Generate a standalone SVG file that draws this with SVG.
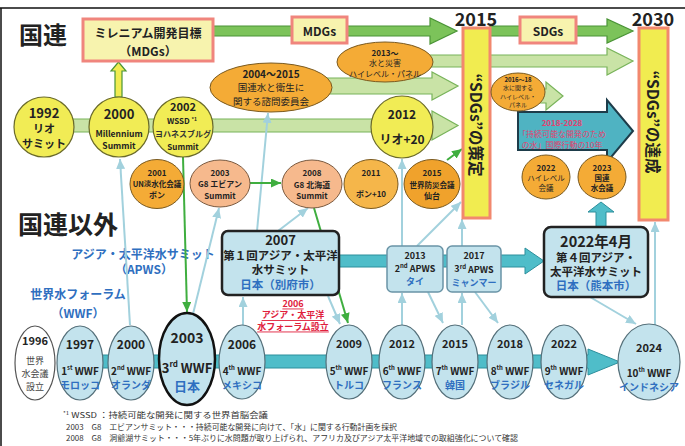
<svg xmlns="http://www.w3.org/2000/svg" width="685" height="446" viewBox="0 0 685 446">
<style>
text{font-family:"Noto Sans CJK JP","Noto Sans",sans-serif;text-anchor:middle;dominant-baseline:central;fill:#222;font-weight:bold}
.big{font-size:24px}
.yc{fill:#f1ec55;stroke:#6a6a2a;stroke-width:1.2}
.or{fill:#f4ab36;stroke:#7a5a20;stroke-width:1}
.or2{fill:#f5b64a;stroke:#7a5a20;stroke-width:1}
.sal{fill:#f6b98d;stroke:#7a5a40;stroke-width:1}
.dg{fill:#7cc35a;stroke:#4a9436;stroke-width:1.2}
.lg{fill:#c9e3a6;stroke:#78b35a;stroke-width:1.2}
.lbl{fill:#f7f3ae;stroke:#f0857d;stroke-width:3}
.bar{fill:#f1ec50;stroke:#f2886e;stroke-width:3}
.wwf{fill:#c3e3ed;stroke:#55707a;stroke-width:1.2}
.apws{fill:#c3e3ed;stroke:#6a94a6;stroke-width:1.5}
.key{fill:#c3e3ed;stroke:#222;stroke-width:2.5}
.band{fill:#4fbdc9;stroke:#2c8f9c;stroke-width:1}
.blue{fill:#2f6fc0}
.bl{fill:#2f6fc0}
.s7{font-size:7.5px}
.s8{font-size:8px}
.s9{font-size:9px}
.s10{font-size:10px}
.s11{font-size:11px}
.s12{font-size:12px}
.s13{font-size:13px}
.n{font-weight:normal}
.gray{fill:#444;font-weight:normal;font-size:9px}
.red{fill:#e0203c;text-decoration:underline;font-size:9px}
.pk{fill:#e5406f}
.sup{font-size:6px}
.c{fill:none;stroke:#a2d1dd;stroke-width:2}
.g{fill:none;stroke:#3fae3f;stroke-width:2}
.fn{text-anchor:start;font-weight:normal;fill:#333;font-size:7.8px}
</style>
<defs>
<marker id="ab" markerUnits="userSpaceOnUse" markerWidth="10" markerHeight="9" refX="10" refY="4.5" orient="auto"><path d="M0,0 L10,4.5 L0,9 Z" fill="#a2d1dd"/></marker>
<marker id="ag" markerUnits="userSpaceOnUse" markerWidth="10" markerHeight="9" refX="10" refY="4.5" orient="auto"><path d="M0,0 L10,4.5 L0,9 Z" fill="#3fae3f"/></marker>
</defs>
<rect width="685" height="446" fill="#fff"/>
<path d="M0,8 H685 M1,8 V446" stroke="#111" stroke-width="1.5" fill="none"/>

<g id="titles">
<text x="43" y="33" class="big">国連</text>
<text x="68" y="223" style="font-size:25px">国連以外</text>
<text x="143" y="253" class="s12 bl">アジア・太平洋水サミット</text>
<text x="144" y="268" class="s12 bl">（APWS）</text>
<text x="78" y="293" class="s12 bl">世界水フォーラム</text>
<text x="78" y="312" class="s12 bl">（WWF）</text>
</g>

<g id="arrows">
<path class="lg" d="M44,119 L432,119 L432,111 L458,125.5 L432,140 L432,132 L44,132 Z"/>
<path class="lg" d="M320,78 L432,78 L432,72 L458,86 L432,100 L432,94 L320,94 Z"/>
<path class="lg" d="M425,55 L607,55 L607,48 L633,61 L607,75 L607,67 L425,67 Z"/>
<path class="dg" d="M213,26 L430,26 L430,18 L457,31 L430,44 L430,36 L213,36 Z"/>
<path class="dg" d="M490,26 L607,26 L607,19 L633,31 L607,43 L607,36 L490,36 Z"/>
<path class="lg" d="M538,89 L546,89 L546,82 L563,96 L546,110 L546,103 L538,103 Z"/>
<path d="M518,112 L607,112 L607,100 L633,131 L607,162 L607,150 L518,150 Z" fill="#4fb3c2" stroke="#1d3c4a" stroke-width="2"/>
<path d="M115,97 L115,71 L111,71 L118.5,62 L126,71 L122,71 L122,97 Z" fill="#f1ec50" stroke="#4a9436" stroke-width="1.2"/>
<path class="band" d="M339,255 L525,255 L525,248 L544,261 L525,274 L525,267 L339,267 Z"/>
<path class="band" d="M596,227 L596,212 L588,212 L601,202 L614,212 L606,212 L606,227 Z"/>
<path class="band" d="M80,355 L588,355 L588,349 L620,362 L588,375 L588,368 L80,368 Z"/>
</g>

<g id="connectors">
<line class="c" x1="130" y1="325" x2="120" y2="159" marker-end="url(#ab)"/>
<line class="c" x1="193" y1="314" x2="219" y2="208" marker-end="url(#ab)"/>
<line class="c" x1="257" y1="231" x2="268" y2="113" marker-end="url(#ab)"/>
<line class="c" x1="278" y1="231" x2="308" y2="208" marker-end="url(#ab)"/>
<line class="c" x1="328" y1="296" x2="340" y2="324" marker-end="url(#ab)"/>
<line class="c" x1="243" y1="325" x2="243" y2="297" marker-end="url(#ab)"/>
<line class="c" x1="402" y1="246" x2="402" y2="159" marker-end="url(#ab)"/>
<line class="c" x1="402" y1="325" x2="402" y2="293" marker-end="url(#ab)"/>
<line class="c" x1="428" y1="292" x2="443" y2="323" marker-end="url(#ab)"/>
<line class="c" x1="462" y1="246" x2="462" y2="219" marker-end="url(#ab)"/>
<line class="c" x1="462" y1="325" x2="462" y2="293" marker-end="url(#ab)"/>
<line class="c" x1="475" y1="292" x2="498" y2="323" marker-end="url(#ab)"/>
<line class="c" x1="590" y1="297" x2="636" y2="324" marker-end="url(#ab)"/>
<line class="c" x1="655" y1="325" x2="655" y2="222" marker-end="url(#ab)"/>
<line class="c" x1="417" y1="246" x2="461" y2="202" marker-end="url(#ab)"/>
<line class="g" x1="183" y1="157" x2="187" y2="312" marker-end="url(#ag)"/>
<line class="g" x1="314" y1="208" x2="348" y2="323" marker-end="url(#ag)"/>
<line class="g" x1="447" y1="160" x2="462" y2="149" marker-end="url(#ag)"/>
<line class="g" x1="250" y1="183" x2="281" y2="183" marker-end="url(#ag)"/>
</g>

<g id="mdg-box"><rect class="lbl" x="83" y="19" width="130" height="42"/><text x="148" y="32" class="s12">ミレニアム開発目標</text><text x="148" y="50" class="s12">（MDGs）</text></g>
<g id="mdgs-label"><rect class="lbl" x="292" y="17" width="55" height="26"/><text x="319.5" y="30" class="s12">MDGs</text></g>
<g id="sdgs-label"><rect class="lbl" x="520" y="17" width="56" height="26"/><text x="548" y="30" class="s12">SDGs</text></g>

<g id="y2015"><text x="476" y="18" style="font-size:18px">2015</text></g>
<g id="y2030"><text x="653" y="18" style="font-size:18px">2030</text></g>
<g id="bar2015"><rect class="bar" x="463" y="28" width="27" height="190"/><text transform="translate(476.5,125) rotate(90)" style="font-size:15.5px">“SDGs”の策定</text></g>
<g id="bar2030"><rect class="bar" x="639" y="28" width="29" height="192"/><text transform="translate(653.5,122) rotate(90)" style="font-size:15.5px">“SDGs”の達成</text></g>

<g id="n1992"><circle class="yc" cx="44" cy="127" r="30"/><text x="44" y="112" class="s13">1992</text><text x="44" y="128" class="s11">リオ</text><text x="44" y="143" class="s11">サミット</text></g>
<g id="n2000"><circle class="yc" cx="119" cy="127" r="30"/><text x="119" y="113" class="s13">2000</text><text x="119" y="133" style="font-size:8.5px">Millennium</text><text x="119" y="145" style="font-size:8.5px">Summit</text></g>
<g id="n2002"><circle class="yc" cx="183" cy="127" r="30"/><text x="183" y="106" class="s11">2002</text><text x="182" y="120" class="s8">WSSD <tspan dy="-2.5" style="font-size:5px">*1</tspan></text><text x="183" y="133" class="s8" style="fill:#333">ヨハネスブルグ</text><text x="183" y="146" class="s8">Summit</text></g>
<g id="n2012"><circle class="yc" cx="402" cy="127" r="31"/><text x="402" y="113" class="s12">2012</text><text x="402" y="138" class="s12">リオ+20</text></g>
<g id="n2004"><ellipse class="or" cx="271" cy="87.5" rx="61" ry="24.5"/><text x="271" y="73" class="s10">2004〜2015</text><text x="271" y="87" style="font-size:9.5px" class="n">国連水と衛生に</text><text x="271" y="100.5" style="font-size:9.5px" class="n">関する諮問委員会</text></g>
<g id="n2013p"><ellipse class="or" cx="385" cy="62" rx="48" ry="20"/><text x="385" y="52" class="s8">2013〜</text><text x="385" y="62" class="s8 n">水と災害</text><text x="385" y="73" class="s8 n">ハイレベル・パネル</text></g>
<g id="n2016"><ellipse class="or" cx="518" cy="92" rx="27" ry="19"/><text x="518" y="79" style="font-size:6px">2016〜18</text><text x="518" y="87.5" style="font-size:6px;font-weight:normal">水に関する</text><text x="518" y="96" style="font-size:6px;font-weight:normal">ハイレベル・</text><text x="518" y="104.5" style="font-size:6px;font-weight:normal">パネル</text></g>
<g id="n2018"><text x="562" y="122" class="s8 pk">2018-2028</text><text x="562" y="133" class="s8 pk n">「持続可能な開発のため</text><text x="562" y="144" class="s8 pk n">の水」国際行動の10年</text></g>

<g id="n2001"><ellipse class="or" cx="157" cy="184" rx="27" ry="24.5"/><text x="157" y="172" class="s8">2001</text><text x="157" y="183" class="s7">UN淡水化会議</text><text x="157" y="194" class="s8">ボン</text></g>
<g id="n2003g8"><ellipse class="sal" cx="220" cy="183.5" rx="30" ry="23.5"/><text x="220" y="172" class="s8">2003</text><text x="220" y="183.5" class="s8">G8 エビアン</text><text x="220" y="195" class="s8">Summit</text></g>
<g id="n2008g8"><ellipse class="sal" cx="312" cy="184" rx="30" ry="24"/><text x="312" y="172" class="s8">2008</text><text x="312" y="184" class="s8">G8 北海道</text><text x="312" y="195.5" class="s8">Summit</text></g>
<g id="n2011"><ellipse class="or2" cx="371" cy="184" rx="27" ry="24.5"/><text x="371" y="172" class="s8">2011</text><text x="371" y="193" class="s8">ボン+10</text></g>
<g id="n2015d"><ellipse class="or" cx="432" cy="184" rx="28" ry="24.5" style="fill:#f0a22c"/><text x="432" y="172" class="s8">2015</text><text x="432" y="184" class="s7">世界防災会議</text><text x="432" y="195.5" class="s8">仙台</text></g>
<g id="n2022h"><ellipse class="or" cx="546" cy="177" rx="24" ry="22"/><text x="546" y="167" class="s8">2022</text><text x="546" y="177" class="s7 n">ハイレベル</text><text x="546" y="187" class="s7 n">会議</text></g>
<g id="n2023"><ellipse class="or" cx="602" cy="177" rx="24" ry="22"/><text x="602" y="167" class="s8">2023</text><text x="602" y="177" class="s7">国連</text><text x="602" y="187" class="s7">水会議</text></g>

<g id="apws2007"><rect class="key" x="222" y="231" width="117" height="64" rx="6"/><text x="280.5" y="239.5" class="s13">2007</text><text x="280.5" y="255" style="font-size:11.5px">第１回アジア・太平洋</text><text x="280.5" y="269" style="font-size:11.5px">水サミット</text><text x="280.5" y="284" style="font-size:11.5px" class="bl">日本（別府市）</text></g>
<g id="apws2013"><rect class="apws" x="387" y="246" width="56" height="46" rx="5"/><text x="415" y="255" class="s9">2013</text><text x="415" y="268" class="s9">2<tspan dy="-3" class="sup">nd</tspan><tspan dy="3"> APWS</tspan></text><text x="415" y="281.5" class="s9 bl">タイ</text></g>
<g id="apws2017"><rect class="apws" x="447" y="246" width="54" height="46" rx="5"/><text x="474" y="255.5" class="s9">2017</text><text x="474" y="268.5" class="s9">3<tspan dy="-3" class="sup">rd</tspan><tspan dy="3"> APWS</tspan></text><text x="474" y="282" class="s9 bl">ミャンマー</text></g>
<g id="apws2022"><rect class="key" x="544" y="227" width="104" height="70" rx="7"/><text x="596" y="240" style="font-size:14.5px">2022年4月</text><text x="596" y="257" style="font-size:11.5px">第４回アジア・</text><text x="596" y="271" style="font-size:11.5px">太平洋水サミット</text><text x="596" y="285" style="font-size:11.5px" class="bl">日本（熊本市）</text></g>

<g id="note2006"><text x="293" y="303" class="red">2006</text><text x="293" y="314.5" class="red">アジア・太平洋</text><text x="293" y="326" class="red">水フォーラム設立</text></g>

<g id="w1996"><ellipse cx="35" cy="363" rx="20" ry="37" fill="#fff" stroke="#555" stroke-width="1.2"/><text x="35" y="340" class="s11">1996</text><text x="35" y="360.5" class="gray">世界</text><text x="35" y="373.5" class="gray">水会議</text><text x="35" y="386.5" class="gray">設立</text></g>
<g id="w1997"><ellipse class="wwf" cx="80" cy="363" rx="23" ry="37"/><text x="80" y="343" class="s12">1997</text><text x="80" y="370" class="s10">1<tspan dy="-3" class="sup">st</tspan><tspan dy="3"> WWF</tspan></text><text x="80" y="384" class="s10 blue">モロッコ</text></g>
<g id="w2000"><ellipse class="wwf" cx="131" cy="363" rx="23" ry="37"/><text x="131" y="343" class="s12">2000</text><text x="131" y="370" class="s10">2<tspan dy="-3" class="sup">nd</tspan><tspan dy="3"> WWF</tspan></text><text x="131" y="384" class="s10 blue">オランダ</text></g>
<g id="w2003"><ellipse class="wwf" cx="187" cy="359" rx="28" ry="46" style="stroke:#111;stroke-width:2.5"/><text x="187" y="337" style="font-size:14px">2003</text><text x="187" y="367" style="font-size:13px">3<tspan dy="-4" style="font-size:8px">rd</tspan><tspan dy="4"> WWF</tspan></text><text x="187" y="385" class="s13 blue">日本</text></g>
<g id="w2006"><ellipse class="wwf" cx="242" cy="362" rx="23" ry="37"/><text x="242" y="343" class="s12">2006</text><text x="242" y="370" class="s10">4<tspan dy="-3" class="sup">th</tspan><tspan dy="3"> WWF</tspan></text><text x="242" y="384" class="s10 blue">メキシコ</text></g>
<g id="w2009"><ellipse class="wwf" cx="349" cy="362" rx="23" ry="37"/><text x="349" y="343" class="s11">2009</text><text x="349" y="370" class="s10">5<tspan dy="-3" class="sup">th</tspan><tspan dy="3"> WWF</tspan></text><text x="349" y="384" class="s10 blue">トルコ</text></g>
<g id="w2012"><ellipse class="wwf" cx="402" cy="362" rx="23" ry="37"/><text x="402" y="343" class="s11">2012</text><text x="402" y="370" class="s10">6<tspan dy="-3" class="sup">th</tspan><tspan dy="3"> WWF</tspan></text><text x="402" y="384" class="s10 blue">フランス</text></g>
<g id="w2015"><ellipse class="wwf" cx="455" cy="362" rx="23" ry="37"/><text x="455" y="343" class="s11">2015</text><text x="455" y="370" class="s10">7<tspan dy="-3" class="sup">th</tspan><tspan dy="3"> WWF</tspan></text><text x="455" y="384" class="s10 blue">韓国</text></g>
<g id="w2018"><ellipse class="wwf" cx="510" cy="362" rx="23" ry="37"/><text x="510" y="343" class="s11">2018</text><text x="510" y="370" class="s10">8<tspan dy="-3" class="sup">th</tspan><tspan dy="3"> WWF</tspan></text><text x="510" y="384" class="s10 blue">ブラジル</text></g>
<g id="w2022"><ellipse class="wwf" cx="564" cy="362" rx="23" ry="37"/><text x="564" y="343" class="s11">2022</text><text x="564" y="370" class="s10">9<tspan dy="-3" class="sup">th</tspan><tspan dy="3"> WWF</tspan></text><text x="564" y="384" class="s10 blue">セネガル</text></g>
<g id="w2024"><ellipse class="wwf" cx="649" cy="362" rx="31" ry="38"/><text x="649" y="347" class="s11">2024</text><text x="649" y="372" class="s10">10<tspan dy="-3" class="sup">th</tspan><tspan dy="3"> WWF</tspan></text><text x="649" y="386" class="s10 blue">インドネシア</text></g>

<g id="footnotes">
<text x="63" y="413.5" class="fn" textLength="205" lengthAdjust="spacingAndGlyphs"><tspan dy="-2" style="font-size:5px">*1</tspan><tspan dy="2"> WSSD ：持続可能な開発に関する世界首脳会議</tspan></text>
<text x="66" y="426" class="fn" textLength="331" lengthAdjust="spacingAndGlyphs">2003　G8　エビアンサミット・・・持続可能な開発に向けて、「水」に関する行動計画を採択</text>
<text x="66" y="437.5" class="fn" textLength="452" lengthAdjust="spacingAndGlyphs">2008　G8　洞爺湖サミット・・・5年ぶりに水問題が取り上げられ、アフリカ及びアジア太平洋地域での取組強化について確認</text>
</g>
</svg>
